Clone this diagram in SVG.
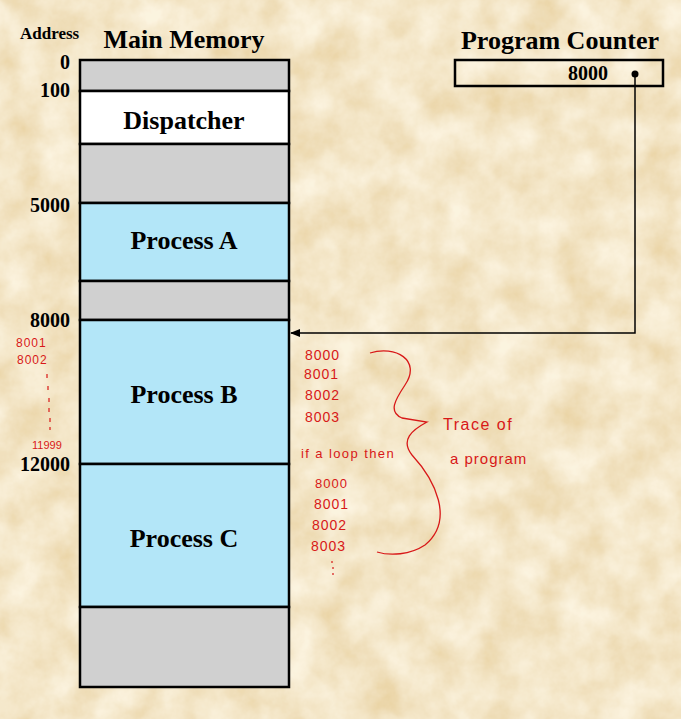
<svg xmlns="http://www.w3.org/2000/svg" width="681" height="719" viewBox="0 0 681 719">
<defs>
<style>
.t{font-family:"Liberation Serif","Times New Roman",serif;font-weight:bold;fill:#000}
.h{font-family:"Liberation Sans",Arial,sans-serif;fill:#d81818;letter-spacing:1px}
.seg{stroke:#000;stroke-width:2.5}
.g{fill:#d0d0d0}
.b{fill:#b3e6f8}
</style>
<filter id="tex" x="0" y="0" width="100%" height="100%">
<feTurbulence type="fractalNoise" baseFrequency="0.025" numOctaves="5" seed="7" result="n"/>
<feColorMatrix in="n" type="matrix" values="0 0 0 0 0.97  0 0 0 0 0.90  0 0 0 0 0.74  0 0 0 -1.4 1.25" result="c"/>
<feComposite in="c" in2="SourceGraphic" operator="over"/>
</filter>
<marker id="ah" markerWidth="10" markerHeight="8" refX="9" refY="4" orient="auto" markerUnits="userSpaceOnUse">
<path d="M0,0 L10,4 L0,8 Z" fill="#000"/>
</marker>
</defs>
<rect x="0" y="0" width="681" height="719" fill="#ead4a5" filter="url(#tex)"/>
<text class="t" x="20" y="39" font-size="17">Address</text>
<text class="t" x="184" y="48" font-size="26" text-anchor="middle">Main Memory</text>
<text class="t" x="560" y="49" font-size="26" text-anchor="middle">Program Counter</text>
<g id="addresses">
<text class="t" x="70" y="69" font-size="20" text-anchor="end">0</text>
<text class="t" x="70" y="97" font-size="20" text-anchor="end">100</text>
<text class="t" x="70" y="212" font-size="20" text-anchor="end">5000</text>
<text class="t" x="70" y="327" font-size="20" text-anchor="end">8000</text>
<text class="t" x="70" y="471" font-size="20" text-anchor="end">12000</text>
</g>
<g id="mem-free0"><rect class="g seg" x="80" y="60" width="209" height="31"/></g>
<g id="dispatcher"><rect class="seg" fill="#fff" x="80" y="91" width="209" height="53"/>
<text class="t" x="184" y="129" font-size="26" text-anchor="middle">Dispatcher</text></g>
<g id="mem-free1"><rect class="g seg" x="80" y="144" width="209" height="59"/></g>
<g id="processA"><rect class="b seg" x="80" y="203" width="209" height="78"/>
<text class="t" x="184" y="249" font-size="26" text-anchor="middle">Process A</text></g>
<g id="mem-free2"><rect class="g seg" x="80" y="281" width="209" height="39"/></g>
<g id="processB"><rect class="b seg" x="80" y="320" width="209" height="144"/>
<text class="t" x="184" y="403" font-size="26" text-anchor="middle">Process B</text></g>
<g id="processC"><rect class="b seg" x="80" y="464" width="209" height="143"/>
<text class="t" x="184" y="547" font-size="26" text-anchor="middle">Process C</text></g>
<g id="mem-free3"><rect class="g seg" x="80" y="607" width="209" height="80"/></g>
<g id="pc"><rect x="455" y="60" width="208" height="26" fill="none" stroke="#000" stroke-width="2.5"/>
<text class="t" x="608" y="80" font-size="20" text-anchor="end">8000</text></g>
<g id="connectors">
<circle cx="635" cy="74" r="3.5" fill="#000"/>
<path d="M635,74 L635,333 L291,333" fill="none" stroke="#000" stroke-width="1.5" marker-end="url(#ah)"/>
</g>
<g id="annotations">
<text class="h" x="16" y="347" font-size="12">8001</text>
<text class="h" x="17" y="364" font-size="12">8002</text>
<path d="M47,374 L47,378 M48,386 L48,390 M49,398 L49,402 M49,408 L49,412 M50,418 L50,422 M50,427 L50,430" stroke="#d81818" stroke-width="1.2"/>
<text class="h" x="32" y="449" font-size="11" style="letter-spacing:0">11999</text>
<text class="h" x="305" y="360" font-size="14">8000</text>
<text class="h" x="304" y="379" font-size="14">8001</text>
<text class="h" x="305" y="400" font-size="14">8002</text>
<text class="h" x="305" y="422" font-size="14">8003</text>
<text class="h" x="301" y="458" font-size="13" style="letter-spacing:1.4px">if a loop then</text>
<text class="h" x="315" y="488" font-size="13">8000</text>
<text class="h" x="314" y="509" font-size="14">8001</text>
<text class="h" x="312" y="530" font-size="14">8002</text>
<text class="h" x="311" y="551" font-size="14">8003</text>
<path d="M332,561 L332,563 M333,567 L333,569 M333,573 L333,575" stroke="#d81818" stroke-width="1.2"/>
<text class="h" x="443" y="430" font-size="16" style="letter-spacing:1.5px">Trace of</text>
<text class="h" x="450" y="464" font-size="15" style="letter-spacing:1px">a program</text>
<path d="M370,353 C395,345 422,360 405,385 C395,400 388,412 402,418 L427,422 C412,430 400,440 412,455 C435,480 455,520 425,545 C410,555 390,556 377,552" fill="none" stroke="#d81818" stroke-width="1.3"/>
</g>
</svg>
